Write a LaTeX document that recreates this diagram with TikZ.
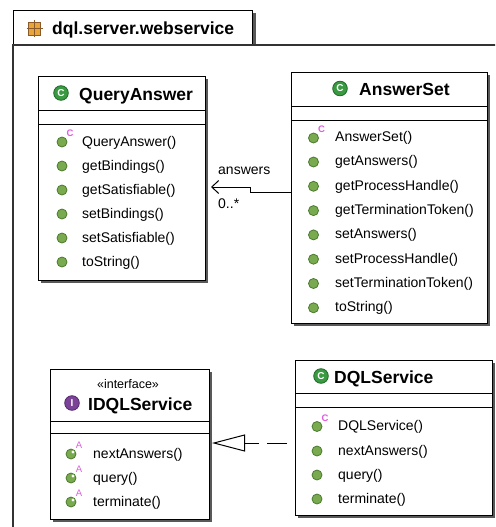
\documentclass[tikz,border=0pt]{standalone}
\usepackage{fontspec}
\setmainfont{Liberation Sans}
\usetikzlibrary{shadows,arrows.meta,calc}
\definecolor{clsgreen}{HTML}{3A9A42}
\definecolor{clsdark}{HTML}{1F6A28}
\definecolor{mgreen}{HTML}{7AAA50}
\definecolor{mdark}{HTML}{4A7A2C}
\definecolor{ifpurple}{HTML}{7B4398}
\definecolor{ifdark}{HTML}{55286E}
\definecolor{supink}{HTML}{E05CE0}
\definecolor{pkgfill}{HTML}{E8A63A}
\definecolor{pkgline}{HTML}{8A5A2A}
\newcommand\micon[2]{\fill[mgreen,draw=mdark,line width=0.8pt] (#1,#2) circle [radius=5pt];}
\newcommand\ctoricon[2]{\fill[mgreen,draw=mdark,line width=0.8pt] (#1,#2) circle [radius=5pt];
  \node[font=\fontsize{9.5}{10}\selectfont\bfseries,text=supink,inner sep=0] at ($(#1,#2)+(8,-8.5)$) {C};}
\newcommand\absicon[2]{\fill[mgreen,draw=mdark,line width=0.8pt] (#1,#2) circle [radius=5pt];
  \fill[white] ($(#1,#2)+(2,-2)$) circle [radius=1.6pt];
  \node[font=\fontsize{9.5}{10}\selectfont,text=supink,inner sep=0] at ($(#1,#2)+(8,-9)$) {A};}
\newcommand\clsicon[2]{\fill[clsgreen,draw=clsdark,line width=0.8pt] (#1,#2) circle [radius=7.3pt];
  \node[font=\fontsize{10}{11}\selectfont\bfseries,text=white,inner sep=0] at (#1,#2) {C};}
\newcommand\inticon[2]{\fill[ifpurple,draw=ifdark,line width=0.8pt] (#1,#2) circle [radius=7.3pt];
  \node[font=\fontsize{10}{11}\selectfont\bfseries,text=white,inner sep=0] at (#1,#2) {I};}
\begin{document}
\begin{tikzpicture}[x=1pt,y=-1pt,
  box/.style={draw=black,line width=1pt,fill=white,anchor=north west,inner sep=0,outer sep=0,
    drop shadow={shadow xshift=3pt,shadow yshift=-3pt,fill=black!65,opacity=1}},
  ttl/.style={font=\fontsize{17.5}{18}\selectfont\bfseries,inner sep=0,anchor=base west},
  mtxt/.style={font=\fontsize{14}{16}\selectfont,inner sep=0,anchor=base west},
  lbl/.style={font=\fontsize{14}{16}\selectfont,inner sep=0},
  sep/.style={line width=1pt},
  assoc/.style={line width=1pt,-{Straight Barb[length=7pt,width=13pt,line width=1pt]}},
  real/.style={line width=1pt,dash pattern=on 20pt off 8pt,dash phase=20pt,
    -{Triangle[open,length=33pt,width=17pt,line width=1pt,fill=white]}}]
\useasboundingbox (0,0) rectangle (495,527);
\clip (0,0) rectangle (495,527);

% package frame
\fill[black!65] (252,13) rectangle (256,45);
\draw[line width=1pt,fill=white] (13,10.5) rectangle (252,45);
\draw[line width=1.5pt,black!80] (13,540) -- (13,45) -- (500,45);
\fill[pkgfill,draw=pkgline,line width=0.6pt] (28.5,22) rectangle (40.5,35);
\draw[pkgline,line width=0.7pt] (34.5,20) -- (34.5,37) (26.5,28.5) -- (42.5,28.5);
\node[ttl] (pkg) at (52,35) {dql.server.webservice};

% QueryAnswer
\node[box,minimum width=167pt,minimum height=204pt] (qa) at (38,76) {};
\draw[sep] (38,110) -- (205,110) (38,124) -- (205,124);
\clsicon{61}{93}
\node[ttl] (qat) at (79,100) {QueryAnswer};
\ctoricon{62}{142}
\node[mtxt] at (82,146) {QueryAnswer()};
\micon{62}{166}
\node[mtxt] at (82,170) {getBindings()};
\micon{62}{190}
\node[mtxt] at (82,194) {getSatisfiable()};
\micon{62}{214}
\node[mtxt] at (82,218) {setBindings()};
\micon{62}{238}
\node[mtxt] at (82,242) {setSatisfiable()};
\micon{62}{262}
\node[mtxt] at (82,266) {toString()};

% AnswerSet
\node[box,minimum width=196pt,minimum height=251pt] (as) at (291,72) {};
\draw[sep] (291,106) -- (487,106) (291,120) -- (487,120);
\clsicon{340}{88.5}
\node[ttl] (ast) at (359,95.5) {AnswerSet};
\ctoricon{313.5}{138}
\node[mtxt] at (335,141.5) {AnswerSet()};
\micon{313.5}{162}
\node[mtxt] at (335,165.8) {getAnswers()};
\micon{313.5}{186.3}
\node[mtxt] at (335,190.1) {getProcessHandle()};
\micon{313.5}{210.6}
\node[mtxt] at (335,214.4) {getTerminationToken()};
\micon{313.5}{234.9}
\node[mtxt] at (335,238.7) {setAnswers()};
\micon{313.5}{259.2}
\node[mtxt] at (335,263) {setProcessHandle()};
\micon{313.5}{283.5}
\node[mtxt] at (335,287.3) {setTerminationToken()};
\micon{313.5}{307.8}
\node[mtxt] at (335,311.6) {toString()};

% association
\coordinate (jogl) at (250,192);
\coordinate (jogu) at (250,187);
\coordinate (qatip) at (211,187);
\draw[assoc] (as.west |- jogl) -- (jogl) -- (jogu) -- (qatip);
\node[lbl,anchor=base west] (lanswers) at (218,174) {answers};
\node[lbl,anchor=base west] (lmult) at (218,208) {0..*};

% IDQLService
\node[box,minimum width=159pt,minimum height=150pt] (idql) at (50,369) {};
\draw[sep] (50,421) -- (209,421) (50,433) -- (209,433);
\node[font=\fontsize{12.5}{14}\selectfont,inner sep=0,anchor=base] (stereo) at (128,388) {«interface»};
\inticon{72}{403}
\node[ttl] (idqlt) at (88,410) {IDQLService};
\absicon{71}{454}
\node[mtxt] at (93,458) {nextAnswers()};
\absicon{71}{478}
\node[mtxt] at (93,482) {query()};
\absicon{71}{502}
\node[mtxt] at (93,506) {terminate()};

% DQLService
\node[box,minimum width=197pt,minimum height=155pt] (ds) at (295,360) {};
\draw[sep] (295,393) -- (492,393) (295,407) -- (492,407);
\clsicon{321}{376}
\node[ttl] (dst) at (334,383) {DQLService};
\ctoricon{317}{426.5}
\node[mtxt] at (338,430.5) {DQLService()};
\micon{317}{451}
\node[mtxt] at (338,455) {nextAnswers()};
\micon{317}{475}
\node[mtxt] at (338,479) {query()};
\micon{317}{499}
\node[mtxt] at (338,503) {terminate()};

% realization
\coordinate (realy) at (0,443);
\coordinate (idqltip) at (212,443);
\draw[real] (ds.west |- realy) -- (idqltip);
\end{tikzpicture}
\end{document}
